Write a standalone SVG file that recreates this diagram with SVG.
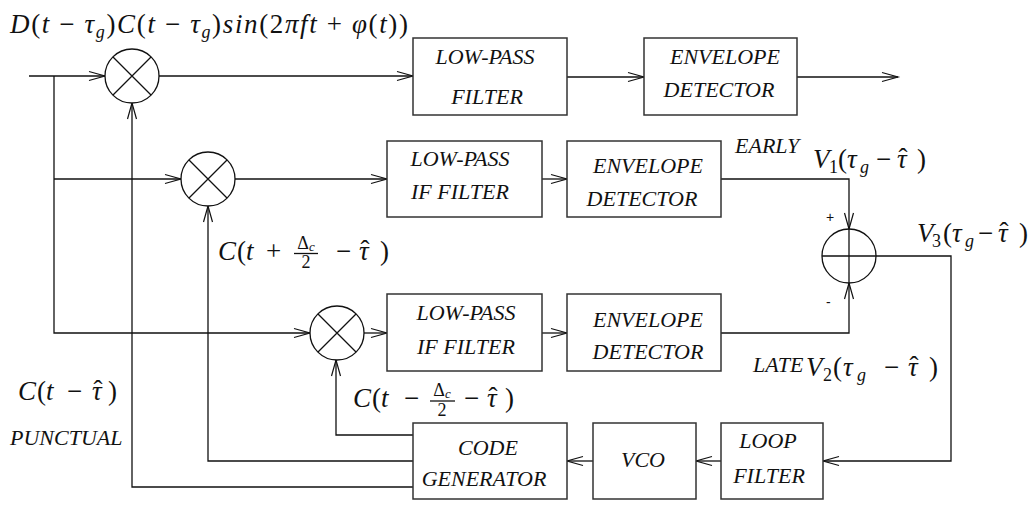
<svg xmlns="http://www.w3.org/2000/svg" width="1034" height="506" viewBox="0 0 1034 506">
<style>
.c{stroke:#111;stroke-width:1.3;fill:none}
.b{stroke:#333;stroke-width:1.5;fill:#fff}
.n{stroke:#111;stroke-width:1.3;fill:#fff}
.t{font-family:"Liberation Serif",serif;font-style:italic;font-size:22px;fill:#111;text-anchor:middle}
.l{font-family:"Liberation Serif",serif;font-style:italic;font-size:22px;fill:#111}
.m{font-family:"Liberation Serif",serif;font-size:27px;fill:#111}
.i{font-style:italic}
.s{font-size:18px}
.f{font-family:"Liberation Serif",serif;font-size:18px;fill:#111;text-anchor:middle}
.p{font-family:"Liberation Sans",sans-serif;font-size:14px;fill:#111}
</style>
<defs>
<marker id="a" markerUnits="userSpaceOnUse" markerWidth="20" markerHeight="12" viewBox="0 0 20 12" refX="17" refY="6" orient="auto">
<path d="M1,1.5 L17,6 L1,10.5" stroke="#111" stroke-width="1.2" fill="none"/>
</marker>
</defs>
<rect width="1034" height="506" fill="#fff"/>
<g id="connectors">
<path class="c" d="M29,76 H105" marker-end="url(#a)"/>
<path class="c" d="M54,76 V333 H310" marker-end="url(#a)"/>
<path class="c" d="M54,179 H181" marker-end="url(#a)"/>
<path class="c" d="M159,76 H413" marker-end="url(#a)"/>
<path class="c" d="M567,77 H644" marker-end="url(#a)"/>
<path class="c" d="M797,77 H898" marker-end="url(#a)"/>
<path class="c" d="M235,179 H387" marker-end="url(#a)"/>
<path class="c" d="M542,179 H567" marker-end="url(#a)"/>
<path class="c" d="M721,179 H849 V229" marker-end="url(#a)"/>
<path class="c" d="M364,333 H387" marker-end="url(#a)"/>
<path class="c" d="M542,333 H567" marker-end="url(#a)"/>
<path class="c" d="M721,333 H849 V283" marker-end="url(#a)"/>
<path class="c" d="M876,256 H951 V461 H823" marker-end="url(#a)"/>
<path class="c" d="M721,461 H696" marker-end="url(#a)"/>
<path class="c" d="M593,461 H567" marker-end="url(#a)"/>
<path class="c" d="M413,435 H336 V360" marker-end="url(#a)"/>
<path class="c" d="M413,461 H208 V206" marker-end="url(#a)"/>
<path class="c" d="M413,487 H132 V103" marker-end="url(#a)"/>
</g>
<g id="mixer1"><circle class="n" cx="132" cy="76" r="27"/><path class="c" d="M113,57 L151,95 M151,57 L113,95"/></g>
<g id="mixer2"><circle class="n" cx="208" cy="179" r="27"/><path class="c" d="M189,160 L227,198 M227,160 L189,198"/></g>
<g id="mixer3"><circle class="n" cx="337" cy="333" r="27"/><path class="c" d="M318,314 L356,352 M356,314 L318,352"/></g>
<g id="sum"><circle class="n" cx="849" cy="256" r="27"/><path class="c" d="M822,256 H876 M849,229 V283"/>
<text class="p" x="826" y="222">+</text><text class="p" x="826" y="307">-</text></g>
<g id="lpf1"><rect class="b" x="413" y="38" width="154" height="77"/><text class="t" x="485" y="64">LOW-PASS</text><text class="t" x="487" y="104">FILTER</text></g>
<g id="env1"><rect class="b" x="644" y="38" width="153" height="77"/><text class="t" x="725" y="64">ENVELOPE</text><text class="t" x="719" y="97">DETECTOR</text></g>
<g id="lpf2"><rect class="b" x="387" y="141" width="155" height="76"/><text class="t" x="460" y="166">LOW-PASS</text><text class="t" x="460" y="199">IF FILTER</text></g>
<g id="env2"><rect class="b" x="567" y="141" width="154" height="76"/><text class="t" x="648" y="173">ENVELOPE</text><text class="t" x="642" y="206">DETECTOR</text></g>
<g id="lpf3"><rect class="b" x="387" y="294" width="155" height="77"/><text class="t" x="466" y="320">LOW-PASS</text><text class="t" x="466" y="354">IF FILTER</text></g>
<g id="env3"><rect class="b" x="567" y="294" width="154" height="77"/><text class="t" x="648" y="327">ENVELOPE</text><text class="t" x="648" y="359">DETECTOR</text></g>
<g id="codegen"><rect class="b" x="413" y="423" width="154" height="76"/><text class="t" x="488" y="455">CODE</text><text class="t" x="484" y="486">GENERATOR</text></g>
<g id="vco"><rect class="b" x="593" y="423" width="103" height="76"/><text class="t" x="643" y="467">VCO</text></g>
<g id="loopfilter"><rect class="b" x="721" y="423" width="102" height="76"/><text class="t" x="768" y="448">LOOP</text><text class="t" x="769" y="483">FILTER</text></g>
<g id="labels">
<text class="m" x="10" y="33" textLength="398"><tspan class="i">D</tspan>(<tspan class="i">t</tspan> − <tspan class="i">τ</tspan><tspan class="i s" dy="5">g</tspan><tspan dy="-5">)</tspan><tspan class="i">C</tspan>(<tspan class="i">t</tspan> − <tspan class="i">τ</tspan><tspan class="i s" dy="5">g</tspan><tspan dy="-5">)</tspan><tspan class="i">sin</tspan>(2<tspan class="i">πft</tspan> + <tspan class="i">φ</tspan>(<tspan class="i">t</tspan>))</text>

<text class="m" y="168"><tspan class="i" x="813">V</tspan><tspan class="s" x="829" dy="5">1</tspan><tspan x="838" dy="-5">(</tspan><tspan class="i" x="847">τ</tspan><tspan class="i s" x="860" dy="5">g</tspan><tspan x="876" dy="-5">−</tspan><tspan class="i" x="897">τ</tspan><tspan x="898.5" dy="-1">ˆ</tspan><tspan x="917" dy="1">)</tspan></text>

<text class="m" y="242"><tspan class="i" x="917">V</tspan><tspan class="s" x="932" dy="5">3</tspan><tspan x="943" dy="-5">(</tspan><tspan class="i" x="952">τ</tspan><tspan class="i s" x="965" dy="5">g</tspan><tspan x="978" dy="-5">−</tspan><tspan class="i" x="998">τ</tspan><tspan x="999.5" dy="-1">ˆ</tspan><tspan x="1019" dy="1">)</tspan></text>

<text class="m" y="376"><tspan class="i" x="806">V</tspan><tspan class="s" x="823" dy="5">2</tspan><tspan x="833" dy="-5">(</tspan><tspan class="i" x="843">τ</tspan><tspan class="i s" x="857" dy="5">g</tspan><tspan x="884" dy="-5">−</tspan><tspan class="i" x="908">τ</tspan><tspan x="909.5" dy="-1">ˆ</tspan><tspan x="929" dy="1">)</tspan></text>

<text class="m" y="400"><tspan class="i" x="18">C</tspan><tspan x="37">(</tspan><tspan class="i" x="46">t</tspan><tspan x="67">−</tspan><tspan class="i" x="92">τ</tspan><tspan x="93.5" dy="-1">ˆ</tspan><tspan x="108" dy="1">)</tspan></text>

<text class="m" y="260"><tspan class="i" x="218">C</tspan><tspan x="237">(</tspan><tspan class="i" x="246">t</tspan><tspan x="266">+</tspan><tspan x="336">−</tspan><tspan class="i" x="359">τ</tspan><tspan x="360.5" dy="-1">ˆ</tspan><tspan x="380" dy="1">)</tspan></text>
<text class="f" x="306" y="249">Δ<tspan class="i" font-size="13" dy="2">c</tspan></text>
<line class="c" x1="294" y1="253.5" x2="318" y2="253.5"/>
<text class="f" x="306" y="268">2</text>

<text class="m" y="407"><tspan class="i" x="353">C</tspan><tspan x="372">(</tspan><tspan class="i" x="381">t</tspan><tspan x="404">−</tspan><tspan x="464">−</tspan><tspan class="i" x="487">τ</tspan><tspan x="488.5" dy="-1">ˆ</tspan><tspan x="505" dy="1">)</tspan></text>
<text class="f" x="442" y="396">Δ<tspan class="i" font-size="13" dy="2">c</tspan></text>
<line class="c" x1="430" y1="401" x2="455" y2="401"/>
<text class="f" x="442" y="416">2</text>

<text class="l" x="735" y="153">EARLY</text>
<text class="l" x="753" y="372">LATE</text>
<text class="l" x="10" y="445">PUNCTUAL</text>
</g>
</svg>
